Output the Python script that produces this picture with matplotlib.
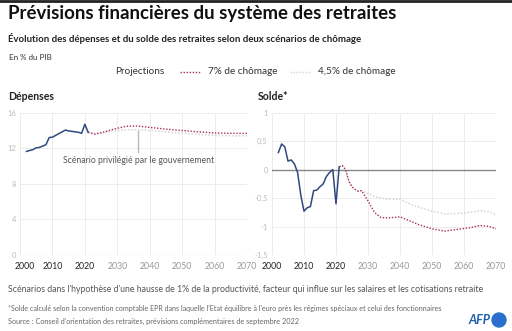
import numpy as np
import matplotlib.pyplot as plt
import matplotlib.transforms as mtransforms
from matplotlib.lines import Line2D
from matplotlib.patches import Ellipse

plt.rcParams['font.family'] = ['Lato', 'DejaVu Sans']

# Dépenses (% du PIB)
dep_hist_years = [2002, 2003, 2004, 2005, 2006, 2007, 2008, 2009, 2010, 2011,
                  2012, 2013, 2014, 2015, 2016, 2017, 2018, 2019, 2020, 2021]
dep_hist = [11.65, 11.75, 11.85, 12.05, 12.1, 12.25, 12.4, 13.2, 13.25, 13.45,
            13.65, 13.85, 14.05, 13.95, 13.9, 13.85, 13.8, 13.68, 14.7, 13.8]
dep_proj_years = [2021, 2022, 2023, 2025, 2027, 2030, 2033, 2036, 2040, 2045,
                  2050, 2055, 2060, 2065, 2070]
dep_7 = [13.8, 13.7, 13.6, 13.75, 13.95, 14.25, 14.48, 14.5, 14.35, 14.15,
         14.0, 13.85, 13.72, 13.68, 13.68]
dep_45 = [13.8, 13.7, 13.6, 13.7, 13.85, 14.0, 14.08, 14.08, 14.0, 13.85,
          13.7, 13.55, 13.45, 13.4, 13.4]

# Solde (% du PIB)
sol_hist_years = [2002, 2003, 2004, 2005, 2006, 2007, 2008, 2009, 2010, 2011,
                  2012, 2013, 2014, 2015, 2016, 2017, 2018, 2019, 2020, 2021]
sol_hist = [0.3, 0.45, 0.4, 0.15, 0.17, 0.1, -0.05, -0.45, -0.73, -0.67,
            -0.65, -0.37, -0.36, -0.3, -0.25, -0.12, -0.05, 0.0, -0.6, 0.05]
sol_proj_years = [2021, 2022, 2023, 2024, 2025, 2026, 2027, 2028, 2030, 2032,
                  2034, 2036, 2038, 2040, 2043, 2046, 2050, 2054, 2058, 2062,
                  2065, 2068, 2070]
sol_7 = [0.05, 0.07, 0.0, -0.2, -0.3, -0.35, -0.38, -0.37, -0.55, -0.75,
         -0.84, -0.85, -0.84, -0.83, -0.9, -0.97, -1.04, -1.08, -1.05, -1.02,
         -0.98, -1.0, -1.04]
sol_45 = [0.05, 0.07, 0.0, -0.2, -0.3, -0.35, -0.38, -0.37, -0.42, -0.47,
          -0.5, -0.52, -0.52, -0.52, -0.6, -0.66, -0.73, -0.78, -0.77, -0.75,
          -0.72, -0.74, -0.8]

x_ticks = [2000, 2010, 2020, 2030, 2040, 2050, 2060, 2070]

blue = '#2e4a7d'
red = '#a8324e'
light = '#d9d3d5'
grid = '#ececec'

fig = plt.figure(figsize=(5.12, 3.31), dpi=100)

def px(x, y):
    return x / 512, 1 - y / 331

# header
fig.add_artist(Line2D([0, 1], [1 - 1 / 331, 1 - 1 / 331], color='#222222', lw=2))
fig.text(*px(8, 13), 'Prévisions financières du système des retraites',
         fontsize=13.4, fontweight='bold', va='center', color='#111111')
fig.text(*px(8, 38), 'Évolution des dépenses et du solde des retraites selon deux scénarios de chômage',
         fontsize=6.9, fontweight='bold', va='center', color='#222222')
fig.text(*px(9, 57), 'En % du PIB', fontsize=5.8, va='center', color='#333333')

# legend row
fig.text(*px(115, 72), 'Projections', fontsize=7.2, va='center', color='#333333')
fig.add_artist(Line2D([180 / 512, 200 / 512], [1 - 72 / 331] * 2, color=red, lw=1, ls=(0, (1, 1.2))))
fig.text(*px(208, 72), '7% de chômage', fontsize=7.2, va='center', color='#333333')
fig.add_artist(Line2D([290 / 512, 310 / 512], [1 - 72 / 331] * 2, color=light, lw=1, ls=(0, (1, 1.2))))
fig.text(*px(318, 72), '4,5% de chômage', fontsize=7.2, va='center', color='#333333')

fig.text(*px(8, 97), 'Dépenses', fontsize=7.6, fontweight='bold', va='center', color='#222222')
fig.text(*px(258, 97), 'Solde*', fontsize=7.6, fontweight='bold', va='center', color='#222222')

y0 = 1 - 255 / 331
h = (255 - 112.7) / 331

def style(ax):
    ax.set_xlim(2000, 2070)
    ax.set_xticks(x_ticks)
    ax.grid(True, color=grid, lw=0.7)
    ax.set_axisbelow(True)
    for s in ax.spines.values():
        s.set_visible(False)
    ax.tick_params(length=0, labelsize=5.5, colors='#bbbbbb', pad=3)
    ax.tick_params(axis='x', labelsize=6.3, pad=5)
    labs = ax.set_xticklabels([str(t) for t in x_ticks])
    for t, lab in zip(x_ticks, labs):
        lab.set_color('#222222' if t <= 2020 else '#999999')
    return labs

# Dépenses panel
ax1 = fig.add_axes([20 / 512, y0, 227 / 512, h])
labs1 = style(ax1)
labs1[0].set_transform(labs1[0].get_transform() +
                       mtransforms.ScaledTranslation(5 / 100, 0, fig.dpi_scale_trans))
ax1.set_ylim(0, 16)
ax1.set_yticks([0, 4, 8, 12, 16])
ax1.axhline(0, color='#bbbbbb', lw=0.8)
ax1.plot(dep_proj_years, dep_45, color=light, lw=1.1, ls=(0, (1, 1.2)))
ax1.plot(dep_proj_years, dep_7, color=red, lw=1.0, ls=(0, (1, 1.2)))
ax1.plot(dep_hist_years, dep_hist, color=blue, lw=1.1)
ax1.plot([2036.5, 2036.5], [13.9, 11.6], color='#bbbbbb', lw=1)
ax1.text(2036.5, 10.6, 'Scénario privilégié par le gouvernement', fontsize=6.2,
         ha='center', va='center', color='#555555')

# Solde panel
ax2 = fig.add_axes([272 / 512, y0, 224 / 512, h])
style(ax2)
ax2.set_ylim(-1.5, 1)
ax2.set_yticks([-1.5, -1, -0.5, 0, 0.5, 1])
ax2.set_yticklabels(['-1,5', '-1', '-0,5', '0', '0,5', '1'])
ax2.axhline(0, color='#888888', lw=1)
ax2.plot(sol_proj_years, sol_45, color=light, lw=1.1, ls=(0, (1, 1.2)))
ax2.plot(sol_proj_years, sol_7, color=red, lw=1.0, ls=(0, (1, 1.2)))
ax2.plot(sol_hist_years, sol_hist, color=blue, lw=1.1)

# footer
fig.text(*px(8, 290), "Scénarios dans l'hypothèse d'une hausse de 1% de la productivité, facteur qui influe sur les salaires et les cotisations retraite",
         fontsize=6.3, va='center', color='#555555')
fig.text(*px(8, 309), "*Solde calculé selon la convention comptable EPR dans laquelle l'Etat équilibre à l'euro près les régimes spéciaux et celui des fonctionnaires",
         fontsize=5.1, va='center', color='#666666')
fig.text(*px(8, 321), "Source : Conseil d'orientation des retraites, prévisions complémentaires de septembre 2022",
         fontsize=5.2, va='center', color='#666666')
fig.text(*px(491, 320), 'AFP', fontsize=9, fontweight='bold', style='italic',
         ha='right', va='center', color='#1b5fae')
fig.add_artist(Ellipse((499 / 512, 1 - 320 / 331), 14 / 512, 14 / 331,
                       color='#2a6fce', transform=fig.transFigure))

fig.savefig('out.png', dpi=100)
